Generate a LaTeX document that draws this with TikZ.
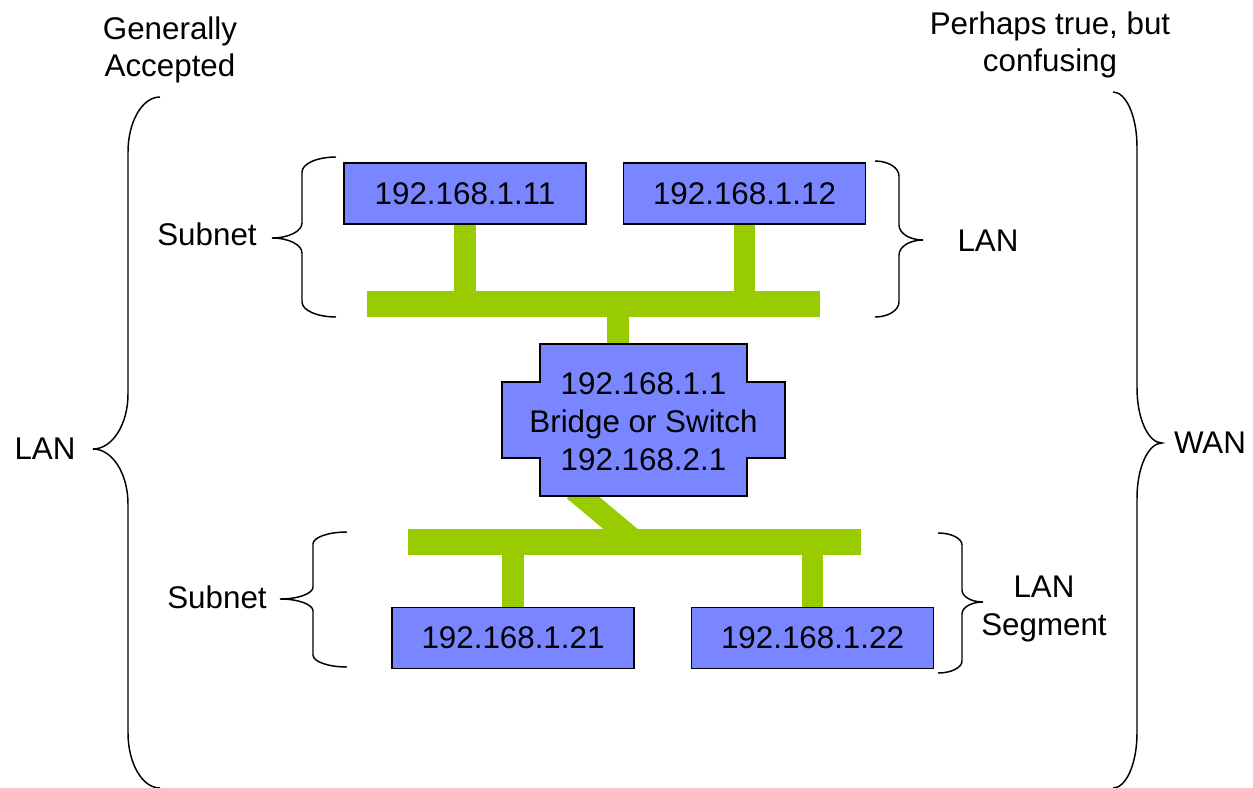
\documentclass[tikz,border=0pt]{standalone}
\usepackage{fontspec}
\setmainfont{Liberation Sans}
\definecolor{hostblue}{RGB}{121,134,255}
\definecolor{busgreen}{RGB}{153,204,0}
\pgfdeclarelayer{wires}
\pgfdeclarelayer{shell}
\pgfsetlayers{wires,shell,main}

% curly brace with its point on the left: xe, xv, xtip, ytop, ymid, ybottom, r
\newcommand\bracetipleft[7]{%
  \draw[brace] (#1,#4)
    arc[start angle=270,end angle=180,x radius={#1-#2},y radius=#7]
    -- (#2,#5-#7)
    arc[start angle=0,end angle=90,x radius={#2-#3},y radius=#7]
    arc[start angle=270,end angle=360,x radius={#2-#3},y radius=#7]
    -- (#2,#6-#7)
    arc[start angle=180,end angle=90,x radius={#1-#2},y radius=#7];}
% curly brace with its point on the right
\newcommand\bracetipright[7]{%
  \draw[brace] (#1,#4)
    arc[start angle=270,end angle=360,x radius={#2-#1},y radius=#7]
    -- (#2,#5-#7)
    arc[start angle=180,end angle=90,x radius={#3-#2},y radius=#7]
    arc[start angle=270,end angle=180,x radius={#3-#2},y radius=#7]
    -- (#2,#6-#7)
    arc[start angle=0,end angle=90,x radius={#2-#1},y radius=#7];}

\begin{document}
\begin{tikzpicture}[x=0.75pt,y=-0.75pt,
  font=\fontsize{23.5}{28.3}\selectfont,
  host/.style={draw=black,line width=1pt,fill=hostblue,inner sep=0pt,
    minimum width=181.5pt,minimum height=45.75pt},
  bus/.style={fill=busgreen,inner sep=0pt,minimum width=339.75pt,minimum height=19.5pt},
  link/.style={draw=busgreen,line width=16pt},
  brace/.style={draw=black,line width=1.1pt},
  label/.style={align=center,inner sep=0pt}]
\useasboundingbox (0,0) rectangle (1253,788);

% hosts and bridge
\node[host] (h11) at (465,193.5) {192.168.1.11};
\node[host] (h12) at (744.5,193.5) {192.168.1.12};
\node[host] (h21) at (513,638) {192.168.1.21};
\node[host] (h22) at (812.5,638) {192.168.1.22};
\node[label] (br) at (643.5,421.5)
  {192.168.1.1\\Bridge or Switch\\192.168.2.1};

% the two segments
\node[bus] (bustop) at (593.5,304) {};
\node[bus] (busbot) at (634,542) {};

% bridge outline: tall body with side ears
\begin{pgfonlayer}{shell}
\draw[fill=hostblue,line width=1pt,shift={(643.5,420)}]
  (-103.5,-76) -- (103.5,-76) -- (103.5,-38) -- (141.5,-38) -- (141.5,38)
  -- (103.5,38) -- (103.5,76) -- (-103.5,76) -- (-103.5,38) -- (-141.5,38)
  -- (-141.5,-38) -- (-103.5,-38) -- cycle;
\end{pgfonlayer}
\coordinate (brtop) at (618,344);

% drops from hosts to segments
\begin{pgfonlayer}{wires}
\draw[link] (h11.south) -- (h11.south |- bustop.north);
\draw[link] (h12.south) -- (h12.south |- bustop.north);
\draw[link] (h21.north) -- (h21.north |- busbot.south);
\draw[link] (h22.north) -- (h22.north |- busbot.south);
\coordinate (uplink) at (618,317);
\draw[link] (uplink) -- (brtop);
\coordinate (dnstart) at (574,490);
\coordinate (dnend) at (636,542);
\draw[link,line width=16.5pt] (dnstart) -- (dnend);
\end{pgfonlayer}

% braces
\bracetipleft{336}{302}{272}{157}{238}{317}{15}
\bracetipright{875}{899}{923}{161}{240}{317}{15}
\bracetipleft{347}{313}{280}{532}{599}{667}{12}
\bracetipright{938}{962}{983}{533}{602}{673}{12}
\bracetipleft{160}{128}{93}{97}{449}{788}{55}
\bracetipright{1113}{1137}{1162}{92}{443}{788}{55}

% labels
\node[label] (sub1) at (207,234) {Subnet};
\node[label] (lan1) at (988,241) {LAN};
\node[label] (sub2) at (217,597) {Subnet};
\node[label] (lanseg) at (1044,609) {LAN\\Segment};
\node[label] (lanbig) at (45,449) {LAN};
\node[label] (wan) at (1210,443) {WAN};
\node[label] (gen) at (170,50) {Generally\\Accepted};
\node[label] (perh) at (1050,45) {Perhaps true, but\\confusing};
\end{tikzpicture}
\end{document}
